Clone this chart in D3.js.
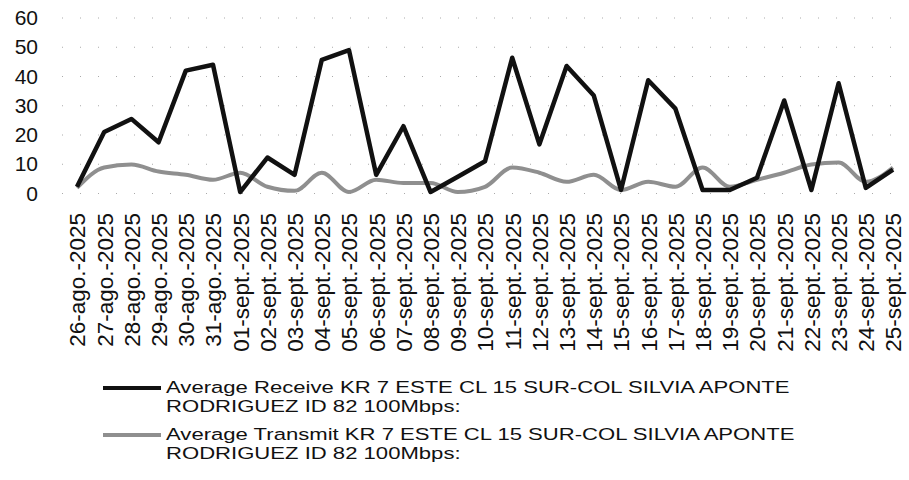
<!DOCTYPE html>
<html>
<head>
<meta charset="utf-8">
<script src="https://cdn.jsdelivr.net/npm/d3@7"></script>
<style>
  body { margin: 0; background: #fff; }
  svg { display: block; font-family: "Liberation Sans", Arial, sans-serif; }
</style>
</head>
<body>
<svg id="chart" width="909" height="480"></svg>
<script>
// dates on the x axis
const dates = ["26-ago.-2025", "27-ago.-2025", "28-ago.-2025", "29-ago.-2025", "30-ago.-2025", "31-ago.-2025",
  "01-sept.-2025", "02-sept.-2025", "03-sept.-2025", "04-sept.-2025", "05-sept.-2025", "06-sept.-2025",
  "07-sept.-2025", "08-sept.-2025", "09-sept.-2025", "10-sept.-2025", "11-sept.-2025", "12-sept.-2025",
  "13-sept.-2025", "14-sept.-2025", "15-sept.-2025", "16-sept.-2025", "17-sept.-2025", "18-sept.-2025",
  "19-sept.-2025", "20-sept.-2025", "21-sept.-2025", "22-sept.-2025", "23-sept.-2025", "24-sept.-2025",
  "25-sept.-2025"];

// Mbps
const receive = [2.3, 21, 25.5, 17.5, 42, 44, 0.5, 12.3, 6.4, 45.7, 49, 6.4, 23, 0.5, 5.7, 11,
  46.4, 16.8, 43.6, 33.5, 1.2, 38.7, 29, 1.2, 1.2, 5.4, 31.8, 1.2, 37.7, 1.9, 8.2];
const transmit = [1.9, 8.9, 9.9, 7.5, 6.4, 4.7, 7.1, 2.3, 0.9, 7.1, 0.5, 4.7, 3.6, 3.6, 0.5, 2.3,
  8.9, 7.1, 4, 6.4, 1.2, 4, 2.3, 8.9, 2.3, 4.7, 7.1, 9.9, 10.6, 4, 8.9];

const yTicks = [0, 10, 20, 30, 40, 50, 60];

const legendLines = [
  ["Average Receive KR 7 ESTE CL 15 SUR-COL SILVIA APONTE", "RODRIGUEZ ID 82 100Mbps:"],
  ["Average Transmit KR 7 ESTE CL 15 SUR-COL SILVIA APONTE", "RODRIGUEZ ID 82 100Mbps:"]
];

const svg = d3.select("#chart");

const x = d3.scalePoint().domain(dates).range([77, 893]);
const y = d3.scaleLinear().domain([0, 60]).range([193.5, 18]);

// sparse dotted gridlines
svg.append("g")
  .selectAll("line")
  .data(yTicks)
  .join("line")
  .attr("x1", 62).attr("x2", 905)
  .attr("y1", d => y(d)).attr("y2", d => y(d))
  .attr("stroke", "#aaa")
  .attr("stroke-width", 1)
  .attr("stroke-dasharray", "1,17");

// y axis
const yAxis = svg.append("g")
  .attr("transform", "translate(38,0)")
  .call(d3.axisLeft(y).tickValues(yTicks).tickSize(0).tickPadding(0));
yAxis.select(".domain").remove();
yAxis.selectAll("text")
  .attr("font-size", "21px")
  .attr("font-family", "Liberation Sans, Arial, sans-serif")
  .attr("fill", "#111");

// x axis labels rotated
const xAxis = svg.append("g")
  .attr("transform", "translate(0,213)")
  .call(d3.axisBottom(x).tickSize(0).tickPadding(0));
xAxis.select(".domain").remove();
xAxis.selectAll("text")
  .attr("font-size", "22.5px")
  .attr("font-family", "Liberation Sans, Arial, sans-serif")
  .attr("fill", "#111")
  .attr("text-anchor", "end")
  .attr("y", 0)
  .attr("dy", "0.35em")
  .attr("transform", "rotate(-90)");

// lines
const lineRx = d3.line()
  .x((d, i) => x(dates[i]))
  .y(d => y(d));

const lineTx = d3.line()
  .x((d, i) => x(dates[i]))
  .y(d => y(d))
  .curve(d3.curveMonotoneX);

svg.append("path")
  .datum(transmit)
  .attr("fill", "none")
  .attr("stroke", "#8f8f8f")
  .attr("stroke-width", 4)
  .attr("stroke-linejoin", "round")
  .attr("d", lineTx);

svg.append("path")
  .datum(receive)
  .attr("fill", "none")
  .attr("stroke", "#111")
  .attr("stroke-width", 4.5)
  .attr("stroke-linejoin", "round")
  .attr("d", lineRx);

// legend (text is drawn wide in the original, so stretch it horizontally)
const legColors = ["#111", "#8f8f8f"];
const leg = svg.append("g");
legendLines.forEach((lines, i) => {
  const top = 393 + i * 47;
  leg.append("line")
    .attr("x1", 103).attr("x2", 161)
    .attr("y1", top - 5).attr("y2", top - 5)
    .attr("stroke", legColors[i])
    .attr("stroke-width", 4);
  lines.forEach((t, j) => {
    leg.append("text")
      .attr("transform", `translate(166,${top + j * 19}) scale(1.3,1)`)
      .attr("font-size", "17px")
      .attr("fill", "#111")
      .text(t);
  });
});
</script>
</body>
</html>
